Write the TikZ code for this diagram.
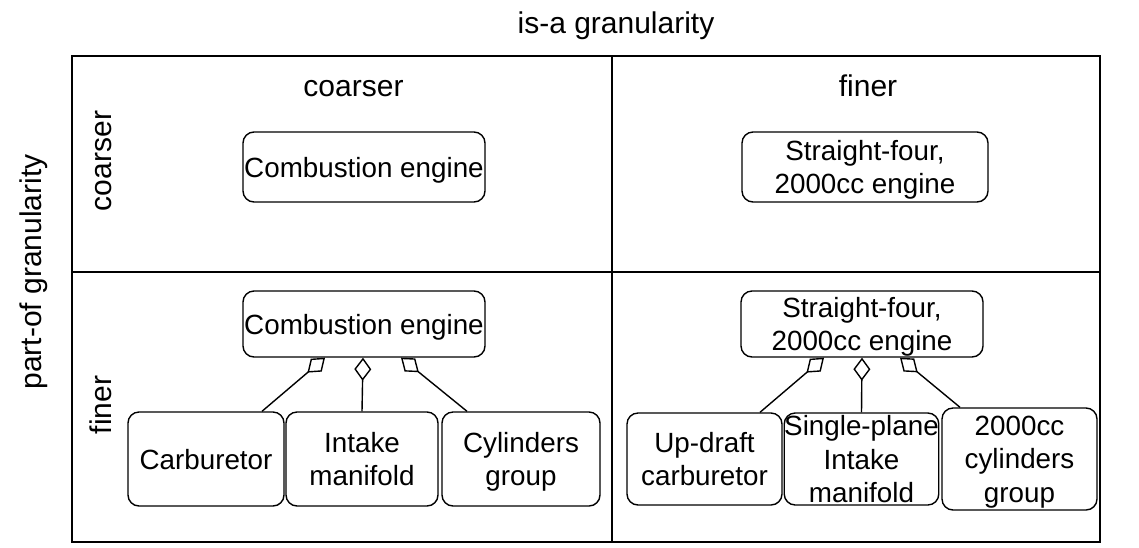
\documentclass[tikz,border=0pt]{standalone}
\usepackage{fontspec}
\setmainfont{Liberation Sans}
\usetikzlibrary{arrows.meta,calc}
\tikzset{
  lbl/.style={font=\fontsize{30}{36}\selectfont, inner sep=0pt},
  box/.style={draw, line width=1.4pt, rounded corners=11pt, fill=white, inner sep=0pt, align=center,
    text depth=0pt, font=\fontsize{27.8}{33.5}\selectfont},
  part/.style={line width=1.4pt, -{Diamond[open,length=23pt,width=17pt]}},
  grid/.style={line width=2pt}
}
\begin{document}
\begin{tikzpicture}[x=1pt,y=-1pt]
\useasboundingbox (0,0) rectangle (1139,547);
% table
\draw[grid] (72,56) rectangle (1100,542);
\draw[grid] (611.5,56) -- (611.5,542);
\draw[grid] (72,271.5) -- (1100,271.5);
% labels
\node[lbl, anchor=base] (title) at (616,33) {is-a granularity};
\node[lbl, anchor=base] (hcoarse) at (353.5,96) {coarser};
\node[lbl, anchor=base] (hfine) at (868,96) {finer};
\node[lbl, anchor=base, rotate=90] (side) at (41.5,272) {part-of granularity};
\node[lbl, anchor=base, rotate=90] (vcoarse) at (111.5,161) {coarser};
\node[lbl, anchor=base, rotate=90] (vfine) at (111.5,405) {finer};
% coarser row
\node[box, minimum width=242pt, minimum height=70pt] (ce1) at (364,167) {Combustion engine};
\node[box, minimum width=246pt, minimum height=70pt] (sf1) at (865,167) {Straight-four,\\2000cc engine};
% finer row, coarser is-a
\node[box, minimum width=242pt, minimum height=66pt] (ce2) at (364,324) {Combustion engine};
\node[box, minimum width=156pt, minimum height=94pt] (carb) at (206,459) {Carburetor};
\node[box, minimum width=152pt, minimum height=94pt] (intake) at (362,459) {Intake\\manifold};
\node[box, minimum width=158pt, minimum height=94pt] (cyl) at (521,459) {Cylinders\\group};
% finer row, finer is-a
\node[box, minimum width=242pt, minimum height=66pt] (sf2) at (862,324) {Straight-four,\\2000cc engine};
\node[box, minimum width=155pt, minimum height=92pt] (updraft) at (704.5,459) {Up-draft\\carburetor};
\node[box, minimum width=153pt, minimum height=92pt] (single) at (861.5,459) {Single-plane\\Intake\\manifold};
\node[box, minimum width=155pt, minimum height=102pt] (cyl2) at (1019.5,459) {2000cc\\cylinders\\group};
% part-of connectors
\draw[part] ($(carb.north)+(56,0)$) -- ($(ce2.south)+(-39,0)$);
\draw[part] (intake.north) -- ($(ce2.south)+(-1,0)$);
\draw[part] ($(cyl.north)+(-54,0)$) -- ($(ce2.south)+(37,0)$);
\draw[part] ($(updraft.north)+(55.5,0)$) -- ($(sf2.south)+(-38,0)$);
\draw[part] (single.north) -- (sf2.south);
\draw[part] ($(cyl2.north)+(-59.5,0)$) -- ($(sf2.south)+(38,0)$);
\end{tikzpicture}
\end{document}
